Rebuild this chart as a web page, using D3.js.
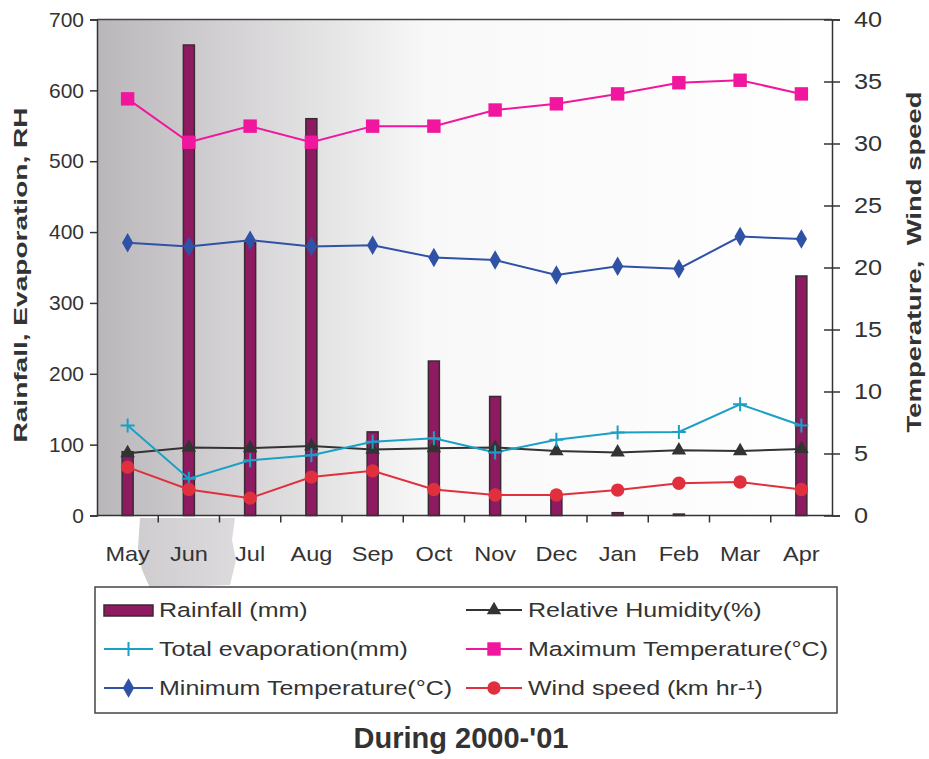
<!DOCTYPE html>
<html><head><meta charset="utf-8">
<script src="https://cdn.jsdelivr.net/npm/d3@7"></script>
<style>body{margin:0;background:#fff}svg{display:block}text{font-family:Arial,"Liberation Sans",sans-serif;fill:#333}</style>
</head><body><svg id="c" width="929" height="759"></svg>
<script>
const months = ["May","Jun","Jul","Aug","Sep","Oct","Nov","Dec","Jan","Feb","Mar","Apr"];
const rainfall = [90,664,385,560,118,218,168,25,4,2,0,338];
const evaporation = [127,52,78,85,104,109,89,107,117,118,157,127];
const humidity = [88,96,95,98,93,95,96,91,89,92,91,94];
const maxTemp = [33.6,30.1,31.4,30.1,31.4,31.4,32.7,33.2,34.0,34.9,35.1,34.0];
const minTemp = [22.0,21.7,22.2,21.7,21.8,20.8,20.6,19.4,20.1,19.9,22.5,22.3];
const windSpeed = [3.9,2.1,1.4,3.1,3.6,2.1,1.65,1.65,2.05,2.6,2.7,2.1];
const leftTicks = [0,100,200,300,400,500,600,700];
const rightTicks = [0,5,10,15,20,25,30,35,40];

const svg = d3.select("#c");
const L=97,R=832,T=19.5,B=515.5;
const x = d3.scaleBand().domain(months).range([L,R]);
const yL = d3.scaleLinear().domain([0,700]).range([B,T]);
const yR = d3.scaleLinear().domain([0,40]).range([B,T]);
const cx = m => x(m)+x.bandwidth()/2;

function stretch(sel,k){
  sel.each(function(){
    const len=this.getComputedTextLength();
    d3.select(this).attr("textLength",len*k).attr("lengthAdjust","spacingAndGlyphs");
  });
}

const defs = svg.append("defs");
const g1 = defs.append("linearGradient").attr("id","bg").attr("x1","0").attr("x2","1").attr("y1","0").attr("y2","0");
g1.append("stop").attr("offset","0").attr("stop-color","#b9b7b9");
g1.append("stop").attr("offset","0.2").attr("stop-color","#d6d4d6");
g1.append("stop").attr("offset","0.45").attr("stop-color","#f8f8f8");
g1.append("stop").attr("offset","1").attr("stop-color","#ffffff");
const g2 = defs.append("linearGradient").attr("id","bg2").attr("x1","0").attr("x2","1");
g2.append("stop").attr("offset","0").attr("stop-color","#cfcdcf");
g2.append("stop").attr("offset","1").attr("stop-color","#dcdadc");

svg.append("rect").attr("x",L).attr("y",T).attr("width",R-L).attr("height",B-T).attr("fill","url(#bg)");
// grey stain below the axis
svg.append("path").attr("d","M140,518 L235,518 L232,540 L236,560 L230,585 L150,588 L142,570 L138,548 Z")
  .attr("fill","url(#bg2)");

// frame top
svg.append("line").attr("x1",L).attr("x2",R).attr("y1",T).attr("y2",T).attr("stroke","#444").attr("stroke-width",1.5);

// bars
const bw = 11;
svg.append("g").selectAll("rect").data(months).join("rect")
  .attr("x",(m)=>cx(m)-bw/2).attr("width",bw)
  .attr("y",(m,i)=>yL(rainfall[i])).attr("height",(m,i)=>B-yL(rainfall[i]))
  .attr("fill","#8e1b62").attr("stroke","#3a2a32").attr("stroke-width",1.5);

// axes
const axL = svg.append("g").attr("transform",`translate(${L},0)`).call(d3.axisLeft(yL).tickValues(leftTicks).tickSize(7).tickPadding(6));
const axR = svg.append("g").attr("transform",`translate(${R},0)`).call(d3.axisRight(yR).tickValues(rightTicks).tickSize(8).tickPadding(14));
axR.selectAll(".tick line").attr("x1",-8);
const axB = svg.append("g").attr("transform",`translate(0,${B})`).call(d3.axisBottom(x).tickSize(0).tickPadding(31));
svg.append("g").selectAll("line").data(months.slice(1)).join("line")
  .attr("x1",m=>x(m)).attr("x2",m=>x(m)).attr("y1",B).attr("y2",B+7).attr("stroke","#333").attr("stroke-width",1.5);
[axL,axR,axB].forEach(a=>{
  a.selectAll("path").attr("stroke","#333").attr("stroke-width",1.5);
  a.selectAll(".tick line").attr("stroke","#333").attr("stroke-width",1.5);
  a.selectAll("text").attr("fill","#333");
});
axL.selectAll("text").attr("font-size",21);
axR.selectAll("text").attr("font-size",22);
axB.selectAll("text").attr("font-size",21);
stretch(axR.selectAll("text"),1.15);
stretch(axB.selectAll("text"),1.12);
axB.select("path").attr("d",`M${L},0H${R}`);

// series lines
const line = (ys,vals)=>d3.line().x((d,i)=>cx(months[i])).y(d=>ys(d))(vals);
const addLine=(vals,ys,color,w)=>svg.append("path").attr("d",line(ys,vals)).attr("fill","none").attr("stroke",color).attr("stroke-width",w);

const cMax="#f0169e", cMin="#2f52a6", cEv="#1aa0c4", cRH="#333333", cWs="#e0303e";
addLine(humidity,yL,cRH,2);
addLine(evaporation,yL,cEv,2);
addLine(maxTemp,yR,cMax,2);
addLine(minTemp,yR,cMin,2);
addLine(windSpeed,yR,cWs,2);

const sym = {
  tri: d3.symbol().type(d3.symbolTriangle).size(90)(),
  sq: d3.symbol().type(d3.symbolSquare).size(180)(),
  dia: d3.symbol().type(d3.symbolDiamond).size(110)(),
  cir: d3.symbol().type(d3.symbolCircle).size(140)(),
  cross: "M-7,0H7M0,-7V7"
};
const addMarks=(vals,ys,shape,color,isCross)=>svg.append("g").selectAll("path").data(vals).join("path")
  .attr("transform",(d,i)=>`translate(${cx(months[i])},${ys(d)})`)
  .attr("d",sym[shape])
  .attr("fill",isCross?"none":color).attr("stroke",color).attr("stroke-width",isCross?2:0);
addMarks(humidity,yL,"tri",cRH);
addMarks(evaporation,yL,"cross",cEv,true);
addMarks(maxTemp,yR,"sq",cMax);
addMarks(minTemp,yR,"dia",cMin);
addMarks(windSpeed,yR,"cir",cWs);

// axis titles
svg.append("text").attr("transform","translate(27,275) rotate(-90)").attr("text-anchor","middle")
  .attr("font-size",18).attr("font-weight","bold").attr("textLength",335).attr("lengthAdjust","spacingAndGlyphs")
  .text("Rainfall, Evaporation, RH");
svg.append("text").attr("transform","translate(921,262) rotate(-90)").attr("text-anchor","middle")
  .attr("font-size",21).attr("font-weight","bold").attr("xml:space","preserve").attr("textLength",341).attr("lengthAdjust","spacingAndGlyphs")
  .text("Temperature,  Wind speed");

// legend
svg.append("rect").attr("x",95).attr("y",587).attr("width",742).attr("height",126)
  .attr("fill","none").attr("stroke","#444").attr("stroke-width",1.5);
const leg = [
  {t:"Rainfall (mm)",col:0,row:0,type:"bar"},
  {t:"Relative Humidity(%)",col:1,row:0,c:cRH,s:"tri"},
  {t:"Total evaporation(mm)",col:0,row:1,c:cEv,s:"cross"},
  {t:"Maximum Temperature(°C)",col:1,row:1,c:cMax,s:"sq"},
  {t:"Minimum Temperature(°C)",col:0,row:2,c:cMin,s:"dia"},
  {t:"Wind speed (km hr-¹)",col:1,row:2,c:cWs,s:"cir"}
];
const colX=[104,466], rowY=[610,649,688];
leg.forEach(d=>{
  const x0=colX[d.col], y0=rowY[d.row];
  const w = d.col===0?49:56;
  if(d.type==="bar"){
    svg.append("rect").attr("x",x0).attr("y",y0-5).attr("width",49).attr("height",11).attr("fill","#8e1b62").attr("stroke","#3a2a32").attr("stroke-width",1.5);
  } else {
    svg.append("line").attr("x1",x0).attr("x2",x0+w).attr("y1",y0).attr("y2",y0).attr("stroke",d.c).attr("stroke-width",2);
    const sc = d.s==="cross";
    svg.append("path").attr("transform",`translate(${x0+w/2},${y0})`).attr("d",sym[d.s])
      .attr("fill",sc?"none":d.c).attr("stroke",d.c).attr("stroke-width",sc?2:0);
  }
  const t = svg.append("text").attr("x",x0+w+6).attr("y",y0+7).attr("font-size",20.5).text(d.t);
  stretch(t,1.22);
});

const title = svg.append("text").attr("x",461).attr("y",748).attr("text-anchor","middle").attr("font-size",29).attr("font-weight","bold").text("During 2000-'01");
</script></body></html>
